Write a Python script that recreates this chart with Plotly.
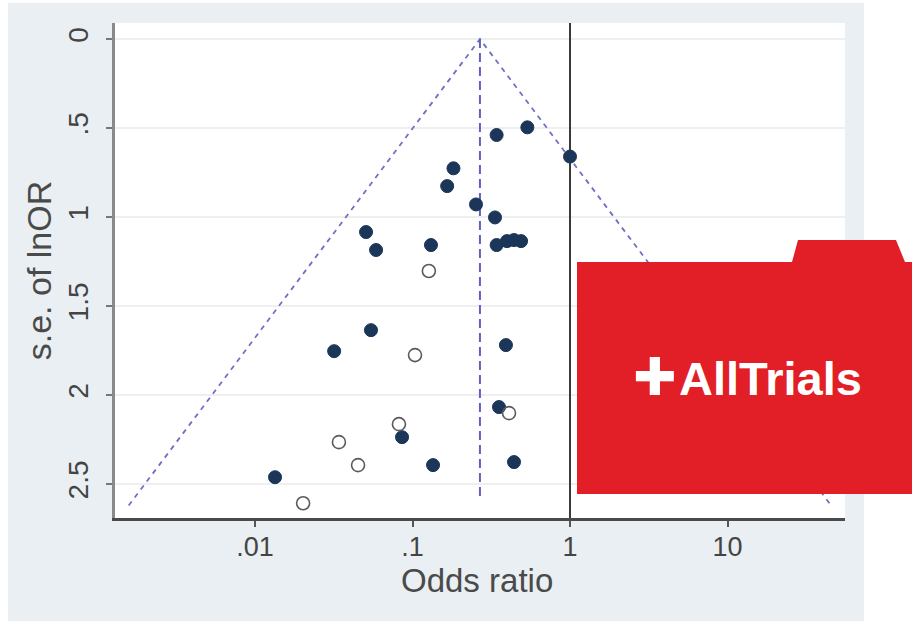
import numpy as np
import plotly.graph_objects as go

# Study estimates: odds ratio and standard error of ln(OR)
published_or = [0.342, 0.536, 1.0, 0.182, 0.166, 0.253, 0.334, 0.342, 0.398, 0.441,
                0.489, 0.0507, 0.0587, 0.131, 0.0545, 0.0318, 0.392, 0.354, 0.0858,
                0.135, 0.441, 0.0134]
published_se = [0.539, 0.496, 0.66, 0.726, 0.826, 0.929, 1.002, 1.157, 1.135, 1.129,
                1.135, 1.084, 1.185, 1.157, 1.635, 1.753, 1.719, 2.067, 2.236,
                2.393, 2.376, 2.461]

unpublished_or = [0.127, 0.1037, 0.410, 0.082, 0.0341, 0.0451, 0.0202]
unpublished_se = [1.303, 1.775, 2.101, 2.163, 2.264, 2.393, 2.607]

pooled_or = 0.268
funnel_se = [0.0, 2.62]
pooled_se_end = 2.58

x_tickvals = [0.01, 0.1, 1, 10]
x_ticktext = [".01", ".1", "1", "10"]
y_tickvals = [0, 0.5, 1, 1.5, 2, 2.5]
y_ticktext = ["0", ".5", "1", "1.5", "2", "2.5"]

W, H = 912, 621
L, R, T, B = 115, 67, 23, 103
PW, PH = W - L - R, H - T - B


def px(x):
    return (x - L) / PW


def py(y):
    return (H - B - y) / PH


fig = go.Figure()

# pseudo 95% confidence limits
lo = [pooled_or * np.exp(-1.96 * s) for s in funnel_se]
hi = [pooled_or * np.exp(1.96 * s) for s in funnel_se]
funnel_line = dict(color="#7070c0", width=1.8, dash="5px,5px")
fig.add_trace(go.Scatter(x=[lo[1], lo[0], hi[1]], y=[funnel_se[1], funnel_se[0], funnel_se[1]],
                         mode="lines", line=funnel_line, hoverinfo="skip"))
fig.add_trace(go.Scatter(x=[pooled_or, pooled_or], y=[0, pooled_se_end], mode="lines",
                         line=dict(color="#6060c8", width=2, dash="9px,5px"), hoverinfo="skip"))

# line of no effect
fig.add_trace(go.Scatter(x=[1, 1], y=[-0.09, 2.69], mode="lines",
                         line=dict(color="#3a3a3a", width=2), hoverinfo="skip"))

fig.add_trace(go.Scatter(x=published_or, y=published_se, mode="markers",
                         marker=dict(size=13, color="#1b3658",
                                     line=dict(color="#1b3658", width=1))))
fig.add_trace(go.Scatter(x=unpublished_or, y=unpublished_se, mode="markers",
                         marker=dict(size=13, color="rgba(255,255,255,0)",
                                     line=dict(color="#5a5a5a", width=1.6))))

shapes = [
    # white frame outside the graph region
    dict(type="rect", xref="paper", yref="paper", x0=px(0), x1=px(8), y0=py(0), y1=py(H),
         fillcolor="white", line=dict(width=0), layer="below"),
    dict(type="rect", xref="paper", yref="paper", x0=px(0), x1=px(W), y0=py(0), y1=py(3),
         fillcolor="white", line=dict(width=0), layer="below"),
    dict(type="rect", xref="paper", yref="paper", x0=px(864), x1=px(W), y0=py(0), y1=py(H),
         fillcolor="white", line=dict(width=0), layer="below"),
    # folder badge
    dict(type="path", xref="paper", yref="paper", layer="above",
         path=("M {a},{b} L {c},{b} L {c},{d} L {e},{d} L {f},{g} L {h},{g} L {i},{d} "
               "L {a},{d} Z").format(a=px(577), b=py(494), c=px(W + 2), d=py(262),
                                     e=px(905), f=px(896), g=py(240), h=px(798), i=px(792)),
         fillcolor="#e21f26", line=dict(width=0)),
]

annotations = [
    dict(text="✚", xref="paper", yref="paper", x=px(655), y=py(377), xanchor="center",
         yanchor="middle", showarrow=False,
         font=dict(family="DejaVu Sans", size=52, color="white")),
    dict(text="<b>AllTrials</b>", xref="paper", yref="paper", x=px(677), y=py(378),
         xanchor="left", yanchor="middle", showarrow=False,
         font=dict(family="Liberation Sans", size=47, color="white")),
    dict(text="Odds ratio", xref="paper", yref="paper", x=px(477), y=py(580),
         xanchor="center", yanchor="middle", showarrow=False,
         font=dict(family="Liberation Sans", size=33, color="#4a4a4a")),
]

fig.update_layout(
    width=W, height=H,
    margin=dict(l=L, r=R, t=T, b=B, pad=0),
    paper_bgcolor="#e9eff2",
    plot_bgcolor="white",
    showlegend=False,
    shapes=shapes,
    annotations=annotations,
    font=dict(family="Liberation Sans", color="#3c3c3c"),
)

fig.update_xaxes(
    type="log", range=[np.log10(0.01) - 0.889, np.log10(10) + 0.746],
    tickvals=x_tickvals, ticktext=x_ticktext, tickfont=dict(size=27, color="#444"),
    ticklabelstandoff=-3,
    ticks="outside", ticklen=6, tickwidth=1.5, tickcolor="#555",
    showgrid=False, zeroline=False,
    showline=True, linecolor="#4a4a4a", linewidth=2.5,
)
fig.update_yaxes(
    range=[2.69, -0.09],
    tickvals=y_tickvals, ticktext=y_ticktext, tickangle=-90,
    tickfont=dict(size=28, color="#444"), ticklabelstandoff=7,
    ticks="outside", ticklen=6, tickwidth=1.5, tickcolor="#777",
    showgrid=True, gridcolor="#efefef", gridwidth=2, zeroline=False,
    showline=True, linecolor="#8a8a8a", linewidth=2.5,
    title=dict(text="s.e. of lnOR", font=dict(size=34, color="#4a4a4a"), standoff=2),
)

fig.write_html("out.html")
